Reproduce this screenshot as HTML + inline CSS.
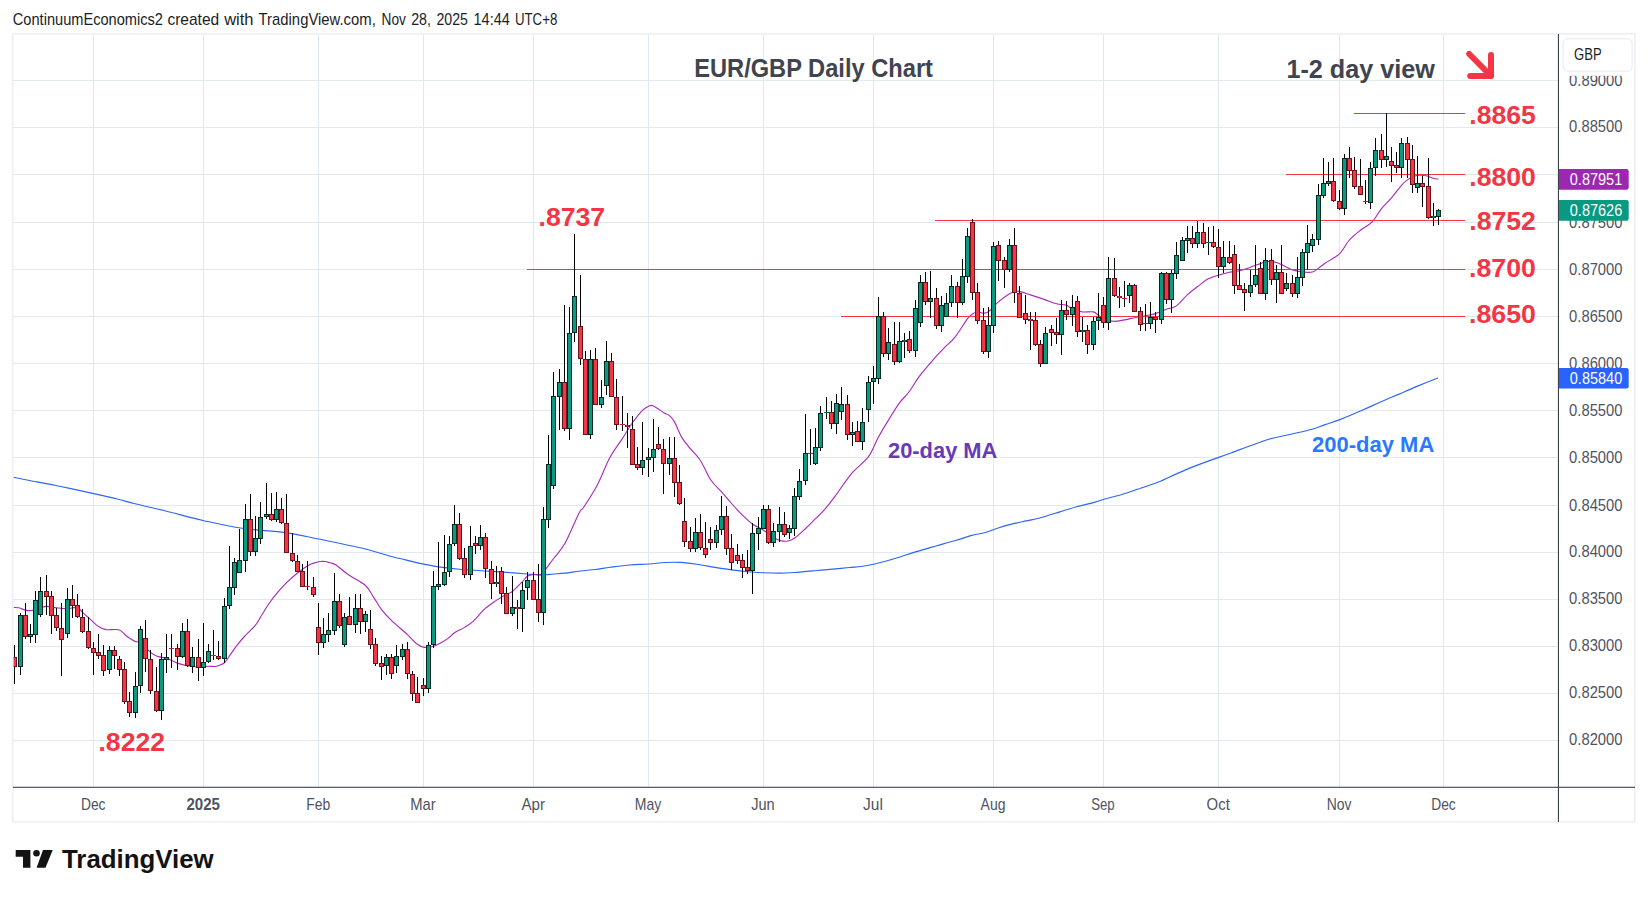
<!DOCTYPE html>
<html><head><meta charset="utf-8"><title>EUR/GBP Daily Chart</title>
<style>html,body{margin:0;padding:0;background:#fff;overflow:hidden}body{width:1648px;height:897px}</style></head>
<body>
<svg width="1648" height="897" viewBox="0 0 1648 897" style="display:block;font-family:'Liberation Sans', sans-serif">
<rect width="1648" height="897" fill="#fff"/>
<g fill="#e0e9f0">
<rect x="13" y="80" width="1545" height="1"/>
<rect x="13" y="127" width="1545" height="1"/>
<rect x="13" y="174" width="1545" height="1"/>
<rect x="13" y="222" width="1545" height="1"/>
<rect x="13" y="269" width="1545" height="1"/>
<rect x="13" y="316" width="1545" height="1"/>
<rect x="13" y="363" width="1545" height="1"/>
<rect x="13" y="410" width="1545" height="1"/>
<rect x="13" y="457" width="1545" height="1"/>
<rect x="13" y="505" width="1545" height="1"/>
<rect x="13" y="552" width="1545" height="1"/>
<rect x="13" y="599" width="1545" height="1"/>
<rect x="13" y="646" width="1545" height="1"/>
<rect x="13" y="693" width="1545" height="1"/>
<rect x="13" y="740" width="1545" height="1"/>
<rect x="93" y="35" width="1" height="752"/>
<rect x="203" y="35" width="1" height="752"/>
<rect x="318" y="35" width="1" height="752"/>
<rect x="423" y="35" width="1" height="752"/>
<rect x="533" y="35" width="1" height="752"/>
<rect x="648" y="35" width="1" height="752"/>
<rect x="763" y="35" width="1" height="752"/>
<rect x="873" y="35" width="1" height="752"/>
<rect x="993" y="35" width="1" height="752"/>
<rect x="1103" y="35" width="1" height="752"/>
<rect x="1218" y="35" width="1" height="752"/>
<rect x="1339" y="35" width="1" height="752"/>
<rect x="1443" y="35" width="1" height="752"/>
</g>
<path d="M13.3,477.3 C16.6,478.0 26.0,479.8 33.1,481.2 C40.3,482.5 46.7,483.6 56.1,485.5 C65.4,487.4 79.0,490.4 89.2,492.6 C99.4,494.9 109.6,497.1 117.2,499.0 C124.9,500.9 127.0,501.8 135.1,503.8 C143.1,505.8 154.2,508.2 165.6,511.0 C177.1,513.8 191.1,517.8 203.9,520.7 C216.6,523.5 228.5,526.3 242.1,528.3 C255.7,530.3 272.7,530.8 285.4,532.6 C298.2,534.4 305.4,536.3 318.6,539.0 C331.7,541.7 352.1,545.7 364.4,548.7 C376.7,551.7 386.5,555.2 392.5,556.8 C398.4,558.5 395.8,557.5 400.0,558.5 C404.2,559.5 411.4,561.5 417.8,562.9 C424.2,564.3 431.4,565.8 438.4,566.9 C445.3,567.9 451.6,568.5 459.4,569.2 C467.2,569.9 477.6,570.4 485.4,571.0 C493.3,571.5 499.5,571.9 506.5,572.4 C513.5,572.9 521.6,573.6 527.4,574.0 C533.1,574.4 536.6,574.9 540.9,574.9 C545.3,574.9 549.6,574.3 553.6,574.0 C557.6,573.7 560.6,573.6 565.0,573.1 C569.4,572.6 575.0,571.6 580.0,571.0 C585.0,570.4 590.0,570.1 595.0,569.5 C600.0,568.9 604.2,568.0 610.0,567.2 C615.8,566.5 623.5,565.5 630.0,565.0 C636.5,564.5 643.2,564.4 649.0,564.0 C654.8,563.6 659.7,562.8 665.0,562.5 C670.3,562.2 675.4,562.1 680.7,562.4 C686.0,562.7 691.1,563.3 696.8,564.2 C702.4,565.0 708.8,566.4 714.6,567.4 C720.4,568.3 726.1,569.2 731.5,569.9 C737.0,570.6 742.1,571.2 747.4,571.7 C752.7,572.1 758.0,572.5 763.3,572.7 C768.6,573.0 774.2,573.1 779.3,573.1 C784.5,573.1 788.8,572.9 794.3,572.5 C799.9,572.2 806.8,571.5 812.7,570.9 C818.6,570.4 823.9,570.0 830.0,569.4 C836.1,568.8 844.2,568.0 849.4,567.5 C854.6,567.0 857.0,567.1 861.1,566.5 C865.1,566.0 868.2,565.5 873.7,564.2 C879.2,562.9 886.8,560.9 894.1,558.7 C901.4,556.6 910.3,553.5 917.4,551.4 C924.5,549.2 930.3,547.6 936.8,545.7 C943.3,543.9 950.4,542.0 956.2,540.3 C962.0,538.6 966.9,536.7 971.7,535.4 C976.6,534.1 980.8,533.8 985.3,532.5 C989.9,531.2 994.1,529.2 998.9,527.7 C1003.8,526.1 1009.9,524.5 1014.5,523.4 C1019.0,522.3 1021.9,521.8 1026.1,520.9 C1030.3,520.0 1034.2,519.4 1039.7,518.0 C1045.2,516.5 1053.0,514.0 1059.1,512.1 C1065.3,510.3 1070.8,508.3 1076.6,506.7 C1082.4,505.1 1088.9,503.9 1094.1,502.4 C1099.3,501.0 1103.1,499.4 1107.7,498.2 C1112.2,496.9 1116.4,496.1 1121.3,494.7 C1126.1,493.2 1133.7,490.5 1136.8,489.4 C1139.9,488.4 1136.4,489.7 1140.0,488.5 C1143.6,487.2 1152.3,484.4 1158.5,482.0 C1164.7,479.5 1170.8,476.3 1177.0,473.6 C1183.2,471.0 1188.6,468.6 1195.5,465.9 C1202.5,463.2 1212.5,459.6 1218.7,457.4 C1224.8,455.1 1227.1,454.3 1232.5,452.4 C1237.9,450.4 1244.9,447.7 1251.0,445.5 C1257.2,443.3 1263.4,440.8 1269.6,439.0 C1275.7,437.2 1281.0,436.4 1288.1,434.8 C1295.2,433.1 1306.0,430.9 1312.1,429.2 C1318.3,427.5 1320.5,426.2 1325.1,424.6 C1329.7,423.0 1333.7,422.0 1339.9,419.6 C1346.1,417.2 1355.3,413.3 1362.1,410.3 C1368.9,407.4 1374.4,404.7 1380.6,402.0 C1386.8,399.3 1392.9,396.7 1399.1,394.1 C1405.3,391.4 1411.1,388.8 1417.6,386.1 C1424.1,383.4 1434.6,379.3 1438.0,378.0" fill="none" stroke="#2c65fc" stroke-width="1.15" stroke-linejoin="round"/>
<path d="M13.6,607.5 C14.5,607.5 16.9,607.4 18.9,607.8 C20.9,608.3 23.4,609.7 25.5,610.1 C27.6,610.6 28.9,610.9 31.4,610.5 C33.9,610.1 38.0,608.5 40.5,607.8 C43.0,607.1 43.9,606.4 46.6,606.4 C49.2,606.4 52.9,607.4 56.4,607.8 C59.9,608.2 63.9,608.8 67.4,608.7 C70.9,608.6 74.9,606.9 77.4,607.5 C79.9,608.0 80.6,610.6 82.4,612.3 C84.3,614.0 85.8,615.2 88.5,617.6 C91.2,620.0 95.5,624.5 98.5,626.5 C101.4,628.5 102.9,629.0 106.3,629.6 C109.7,630.1 115.5,628.8 118.8,629.8 C122.1,630.7 123.3,633.5 125.9,635.5 C128.6,637.4 132.5,640.2 134.9,641.3 C137.3,642.5 137.8,640.8 140.4,642.6 C143.0,644.4 147.9,650.2 150.6,652.4 C153.2,654.6 153.8,655.0 156.5,656.0 C159.1,657.0 163.9,657.5 166.4,658.3 C168.9,659.0 169.6,659.6 171.4,660.4 C173.2,661.2 174.7,662.2 177.3,663.1 C180.0,664.0 183.8,665.1 187.3,665.8 C190.8,666.4 194.8,666.9 198.4,667.0 C201.9,667.1 205.3,666.4 208.3,666.3 C211.4,666.2 214.1,666.9 216.7,666.3 C219.4,665.7 222.3,664.5 224.4,662.8 C226.5,661.0 227.4,658.7 229.4,656.0 C231.4,653.2 233.7,649.6 236.4,646.2 C239.0,642.7 242.1,638.9 245.3,635.5 C248.4,632.0 252.4,628.9 255.1,625.6 C257.8,622.4 259.1,619.4 261.3,615.8 C263.6,612.3 265.8,608.1 268.5,604.2 C271.1,600.4 274.4,596.2 277.4,592.6 C280.4,589.1 282.9,586.1 286.3,582.8 C289.7,579.6 294.0,575.9 297.5,573.0 C301.1,570.2 305.1,567.4 307.7,565.8 C310.4,564.1 310.9,563.9 313.4,563.1 C315.9,562.4 320.1,561.4 322.9,561.3 C325.6,561.3 327.8,562.1 330.0,562.8 C332.2,563.4 333.0,563.0 336.1,565.0 C339.1,567.0 343.6,571.4 348.5,574.8 C353.4,578.2 361.3,581.8 365.5,585.5 C369.6,589.2 370.8,593.1 373.5,597.1 C376.2,601.1 378.6,605.7 381.5,609.6 C384.5,613.5 387.0,616.1 391.4,620.3 C395.7,624.5 403.2,630.7 407.4,634.6 C411.6,638.4 413.5,641.3 416.3,643.5 C419.1,645.6 421.5,647.0 424.4,647.4 C427.2,647.9 430.8,647.0 433.6,646.2 C436.5,645.4 438.8,643.9 441.3,642.6 C443.8,641.3 446.2,639.8 448.4,638.1 C450.6,636.5 451.8,634.6 454.5,632.8 C457.2,631.0 461.3,629.4 464.5,627.4 C467.6,625.5 470.0,624.3 473.4,621.2 C476.8,618.1 481.2,612.2 485.0,608.7 C488.8,605.2 492.7,602.8 496.3,600.4 C499.9,598.0 503.8,595.6 506.5,594.2 C509.2,592.7 509.7,593.6 512.4,591.5 C515.0,589.4 519.9,584.2 522.4,581.7 C524.9,579.1 525.5,577.5 527.4,576.3 C529.2,575.1 531.2,574.8 533.4,574.5 C535.7,574.2 538.8,575.6 540.9,574.5 C543.1,573.5 544.2,571.0 546.3,568.3 C548.4,565.6 550.5,562.6 553.6,558.5 C556.7,554.3 560.8,550.9 565.0,543.3 C569.2,535.7 576.0,518.9 579.1,512.9 C582.1,506.9 580.8,511.6 583.5,507.5 C586.2,503.5 592.3,494.0 595.3,488.8 C598.3,483.6 598.9,481.7 601.4,476.3 C603.8,471.0 606.8,462.9 610.3,456.7 C613.7,450.5 618.5,444.5 622.2,438.9 C625.9,433.2 629.0,427.6 632.4,422.8 C635.7,418.1 639.7,413.1 642.4,410.3 C645.1,407.6 646.8,407.0 648.6,406.2 C650.5,405.5 651.0,404.8 653.4,405.9 C655.9,406.9 660.8,410.8 663.4,412.5 C666.1,414.1 667.7,414.1 669.5,415.7 C671.3,417.3 672.5,418.4 674.5,421.9 C676.5,425.5 679.2,432.9 681.6,437.1 C684.0,441.2 685.6,443.0 688.8,446.9 C691.9,450.8 696.8,455.1 700.5,460.7 C704.2,466.3 707.5,475.1 711.0,480.3 C714.5,485.5 718.1,488.1 721.6,491.9 C725.0,495.8 728.1,499.6 731.5,503.5 C735.0,507.4 738.9,511.7 742.4,515.1 C745.9,518.5 748.9,521.5 752.4,524.0 C755.9,526.6 760.0,528.0 763.5,530.3 C767.0,532.5 770.6,535.7 773.5,537.4 C776.3,539.1 778.2,540.0 780.6,540.6 C783.0,541.2 785.4,541.4 787.7,541.0 C790.0,540.6 791.4,540.4 794.3,538.3 C797.3,536.2 802.0,531.8 805.6,528.5 C809.1,525.2 812.3,521.9 815.6,518.7 C818.8,515.4 822.0,512.6 825.2,508.9 C828.4,505.1 830.6,502.3 835.0,496.4 C839.4,490.5 846.0,480.2 851.5,473.6 C857.1,467.0 864.0,462.7 868.5,456.7 C873.0,450.6 875.1,443.1 878.5,437.0 C881.8,430.9 885.0,425.7 888.5,420.1 C891.9,414.4 895.9,407.9 899.3,403.1 C902.8,398.4 906.0,396.0 909.3,391.5 C912.7,387.1 915.4,381.6 919.3,376.4 C923.2,371.2 928.4,365.2 932.7,360.3 C937.0,355.4 941.5,350.8 945.2,346.9 C948.9,343.1 951.3,341.8 955.0,337.1 C958.7,332.4 964.5,322.7 967.4,318.8 C970.3,315.0 970.7,315.1 972.4,314.0 C974.0,312.9 975.5,312.2 977.4,312.0 C979.2,311.9 981.6,313.2 983.4,313.1 C985.3,313.0 985.9,313.5 988.4,311.7 C990.9,309.8 994.9,304.8 998.4,301.9 C1001.9,298.9 1006.8,295.5 1009.5,293.8 C1012.2,292.2 1012.8,292.5 1014.5,292.1 C1016.1,291.6 1016.6,290.9 1019.3,291.4 C1021.9,291.8 1026.1,293.5 1030.5,294.9 C1034.9,296.3 1041.2,298.4 1045.5,299.9 C1049.8,301.4 1053.0,302.9 1056.6,303.8 C1060.1,304.7 1063.9,304.4 1066.5,305.3 C1069.2,306.2 1069.8,308.1 1072.4,309.2 C1075.1,310.3 1078.9,311.4 1082.4,311.9 C1085.9,312.3 1090.8,311.3 1093.5,311.9 C1096.2,312.5 1096.8,314.3 1098.5,315.4 C1100.1,316.5 1101.0,317.5 1103.5,318.5 C1106.0,319.4 1110.0,321.1 1113.5,321.3 C1116.9,321.6 1120.9,320.5 1124.3,319.9 C1127.8,319.3 1130.8,318.4 1134.3,317.8 C1137.9,317.1 1142.0,316.5 1145.6,315.8 C1149.1,315.1 1152.1,314.7 1155.6,313.6 C1159.0,312.5 1163.0,310.5 1166.4,309.2 C1169.9,307.9 1172.9,308.3 1176.4,305.9 C1179.9,303.5 1183.8,298.0 1187.3,294.9 C1190.8,291.7 1193.8,289.5 1197.3,286.8 C1200.8,284.2 1204.8,280.7 1208.3,278.8 C1211.8,276.9 1214.8,276.3 1218.3,275.2 C1221.8,274.1 1225.9,273.0 1229.4,272.2 C1232.9,271.5 1235.9,271.6 1239.4,270.8 C1242.9,270.0 1246.9,268.4 1250.4,267.2 C1253.9,266.0 1257.9,264.5 1260.4,263.6 C1262.9,262.8 1263.1,262.2 1265.4,261.9 C1267.7,261.6 1271.5,261.4 1274.2,261.9 C1276.8,262.3 1278.4,263.2 1281.5,264.5 C1284.5,265.9 1289.0,268.6 1292.5,269.9 C1296.0,271.1 1299.2,271.7 1302.5,272.0 C1305.9,272.4 1309.8,272.7 1312.5,272.0 C1315.2,271.4 1316.5,269.6 1318.6,268.1 C1320.7,266.7 1321.5,265.7 1325.0,263.3 C1328.5,260.9 1335.4,257.6 1339.4,253.8 C1343.5,249.9 1345.9,244.0 1349.4,240.0 C1352.9,236.1 1356.7,233.2 1360.5,230.2 C1364.2,227.2 1368.4,225.8 1371.9,222.2 C1375.4,218.6 1378.1,212.9 1381.3,208.8 C1384.6,204.7 1388.2,201.7 1391.5,197.8 C1394.9,193.8 1398.9,188.2 1401.5,185.3 C1404.1,182.3 1405.6,181.3 1407.4,179.9 C1409.2,178.5 1410.4,177.8 1412.4,177.1 C1414.3,176.3 1416.8,175.5 1419.2,175.3 C1421.5,175.1 1423.9,175.3 1426.3,175.8 C1428.7,176.3 1431.4,178.0 1433.4,178.5 C1435.5,179.0 1437.6,178.9 1438.4,179.0" fill="none" stroke="#a62bb8" stroke-width="1.12" stroke-linejoin="round"/>
<g fill="#f23645">
<rect x="1354" y="113" width="111" height="1"/>
<rect x="1286" y="174" width="179" height="1"/>
<rect x="935" y="220" width="530" height="1"/>
<rect x="527" y="269" width="938" height="1"/>
<rect x="841" y="316" width="624" height="1"/>
</g>
<g fill="#000"><rect x="14" y="645" width="1" height="39"/><rect x="20" y="613" width="1" height="62"/><rect x="25" y="603" width="1" height="36"/><rect x="30" y="624" width="1" height="19"/><rect x="35" y="591" width="1" height="52"/><rect x="40" y="577" width="1" height="40"/><rect x="46" y="575" width="1" height="40"/><rect x="51" y="591" width="1" height="43"/><rect x="56" y="608" width="1" height="23"/><rect x="61" y="603" width="1" height="73"/><rect x="67" y="588" width="1" height="50"/><rect x="72" y="585" width="1" height="33"/><rect x="77" y="594" width="1" height="24"/><rect x="82" y="609" width="1" height="24"/><rect x="88" y="617" width="1" height="32"/><rect x="93" y="642" width="1" height="33"/><rect x="98" y="634" width="1" height="25"/><rect x="103" y="645" width="1" height="31"/><rect x="109" y="646" width="1" height="28"/><rect x="114" y="646" width="1" height="23"/><rect x="119" y="656" width="1" height="20"/><rect x="124" y="662" width="1" height="42"/><rect x="129" y="692" width="1" height="25"/><rect x="135" y="672" width="1" height="46"/><rect x="140" y="626" width="1" height="67"/><rect x="145" y="620" width="1" height="52"/><rect x="150" y="650" width="1" height="44"/><rect x="156" y="667" width="1" height="45"/><rect x="161" y="653" width="1" height="67"/><rect x="166" y="634" width="1" height="39"/><rect x="171" y="634" width="1" height="34"/><rect x="177" y="644" width="1" height="26"/><rect x="182" y="623" width="1" height="35"/><rect x="187" y="619" width="1" height="48"/><rect x="192" y="647" width="1" height="26"/><rect x="198" y="639" width="1" height="42"/><rect x="203" y="623" width="1" height="53"/><rect x="208" y="644" width="1" height="19"/><rect x="213" y="630" width="1" height="30"/><rect x="218" y="641" width="1" height="19"/><rect x="224" y="598" width="1" height="65"/><rect x="229" y="546" width="1" height="63"/><rect x="234" y="558" width="1" height="37"/><rect x="239" y="529" width="1" height="44"/><rect x="245" y="504" width="1" height="68"/><rect x="250" y="494" width="1" height="62"/><rect x="255" y="516" width="1" height="40"/><rect x="260" y="502" width="1" height="42"/><rect x="266" y="483" width="1" height="36"/><rect x="271" y="493" width="1" height="28"/><rect x="276" y="492" width="1" height="30"/><rect x="281" y="498" width="1" height="26"/><rect x="286" y="494" width="1" height="59"/><rect x="292" y="533" width="1" height="29"/><rect x="297" y="555" width="1" height="17"/><rect x="302" y="564" width="1" height="23"/><rect x="307" y="561" width="1" height="29"/><rect x="313" y="577" width="1" height="20"/><rect x="318" y="603" width="1" height="52"/><rect x="323" y="618" width="1" height="30"/><rect x="328" y="613" width="1" height="29"/><rect x="334" y="573" width="1" height="62"/><rect x="339" y="594" width="1" height="34"/><rect x="344" y="613" width="1" height="34"/><rect x="349" y="597" width="1" height="28"/><rect x="355" y="594" width="1" height="39"/><rect x="360" y="594" width="1" height="40"/><rect x="365" y="611" width="1" height="21"/><rect x="370" y="610" width="1" height="39"/><rect x="375" y="638" width="1" height="28"/><rect x="381" y="656" width="1" height="24"/><rect x="386" y="654" width="1" height="21"/><rect x="391" y="654" width="1" height="25"/><rect x="396" y="645" width="1" height="28"/><rect x="402" y="644" width="1" height="16"/><rect x="407" y="642" width="1" height="37"/><rect x="412" y="671" width="1" height="30"/><rect x="417" y="677" width="1" height="26"/><rect x="423" y="678" width="1" height="18"/><rect x="428" y="642" width="1" height="51"/><rect x="433" y="571" width="1" height="77"/><rect x="438" y="542" width="1" height="48"/><rect x="444" y="535" width="1" height="51"/><rect x="449" y="536" width="1" height="41"/><rect x="454" y="505" width="1" height="41"/><rect x="459" y="513" width="1" height="47"/><rect x="464" y="548" width="1" height="30"/><rect x="470" y="526" width="1" height="54"/><rect x="475" y="536" width="1" height="18"/><rect x="480" y="525" width="1" height="25"/><rect x="485" y="533" width="1" height="45"/><rect x="491" y="561" width="1" height="38"/><rect x="496" y="566" width="1" height="21"/><rect x="501" y="567" width="1" height="37"/><rect x="506" y="587" width="1" height="27"/><rect x="512" y="576" width="1" height="40"/><rect x="517" y="600" width="1" height="29"/><rect x="522" y="582" width="1" height="50"/><rect x="527" y="572" width="1" height="28"/><rect x="533" y="572" width="1" height="28"/><rect x="538" y="564" width="1" height="58"/><rect x="543" y="507" width="1" height="118"/><rect x="548" y="435" width="1" height="93"/><rect x="553" y="372" width="1" height="117"/><rect x="559" y="369" width="1" height="61"/><rect x="564" y="305" width="1" height="126"/><rect x="569" y="307" width="1" height="133"/><rect x="574" y="234" width="1" height="108"/><rect x="580" y="275" width="1" height="90"/><rect x="585" y="351" width="1" height="84"/><rect x="590" y="350" width="1" height="89"/><rect x="595" y="348" width="1" height="57"/><rect x="601" y="380" width="1" height="28"/><rect x="606" y="341" width="1" height="54"/><rect x="611" y="353" width="1" height="44"/><rect x="616" y="379" width="1" height="51"/><rect x="622" y="396" width="1" height="35"/><rect x="627" y="413" width="1" height="35"/><rect x="632" y="416" width="1" height="49"/><rect x="637" y="447" width="1" height="23"/><rect x="642" y="422" width="1" height="53"/><rect x="648" y="448" width="1" height="29"/><rect x="653" y="419" width="1" height="53"/><rect x="658" y="427" width="1" height="23"/><rect x="663" y="439" width="1" height="55"/><rect x="669" y="437" width="1" height="38"/><rect x="674" y="437" width="1" height="60"/><rect x="679" y="465" width="1" height="40"/><rect x="684" y="498" width="1" height="49"/><rect x="690" y="527" width="1" height="25"/><rect x="695" y="518" width="1" height="34"/><rect x="700" y="514" width="1" height="36"/><rect x="705" y="522" width="1" height="36"/><rect x="710" y="527" width="1" height="23"/><rect x="716" y="525" width="1" height="23"/><rect x="721" y="496" width="1" height="39"/><rect x="726" y="506" width="1" height="49"/><rect x="731" y="534" width="1" height="36"/><rect x="737" y="544" width="1" height="20"/><rect x="742" y="554" width="1" height="24"/><rect x="747" y="550" width="1" height="24"/><rect x="752" y="523" width="1" height="71"/><rect x="758" y="517" width="1" height="33"/><rect x="763" y="505" width="1" height="24"/><rect x="768" y="505" width="1" height="39"/><rect x="773" y="523" width="1" height="24"/><rect x="779" y="507" width="1" height="35"/><rect x="784" y="512" width="1" height="25"/><rect x="789" y="525" width="1" height="14"/><rect x="794" y="488" width="1" height="48"/><rect x="799" y="469" width="1" height="31"/><rect x="805" y="414" width="1" height="71"/><rect x="810" y="429" width="1" height="36"/><rect x="815" y="428" width="1" height="37"/><rect x="820" y="406" width="1" height="45"/><rect x="826" y="397" width="1" height="22"/><rect x="831" y="401" width="1" height="28"/><rect x="836" y="394" width="1" height="40"/><rect x="841" y="387" width="1" height="33"/><rect x="847" y="395" width="1" height="45"/><rect x="852" y="422" width="1" height="24"/><rect x="857" y="421" width="1" height="21"/><rect x="862" y="408" width="1" height="42"/><rect x="868" y="376" width="1" height="46"/><rect x="873" y="366" width="1" height="38"/><rect x="878" y="297" width="1" height="87"/><rect x="883" y="312" width="1" height="45"/><rect x="888" y="328" width="1" height="32"/><rect x="894" y="322" width="1" height="43"/><rect x="899" y="322" width="1" height="41"/><rect x="904" y="333" width="1" height="25"/><rect x="909" y="331" width="1" height="22"/><rect x="915" y="300" width="1" height="57"/><rect x="920" y="275" width="1" height="52"/><rect x="925" y="272" width="1" height="33"/><rect x="930" y="271" width="1" height="47"/><rect x="936" y="288" width="1" height="41"/><rect x="941" y="296" width="1" height="36"/><rect x="946" y="293" width="1" height="24"/><rect x="951" y="275" width="1" height="32"/><rect x="957" y="282" width="1" height="36"/><rect x="962" y="259" width="1" height="46"/><rect x="967" y="228" width="1" height="55"/><rect x="972" y="219" width="1" height="81"/><rect x="977" y="283" width="1" height="41"/><rect x="983" y="308" width="1" height="46"/><rect x="988" y="307" width="1" height="51"/><rect x="993" y="242" width="1" height="91"/><rect x="998" y="241" width="1" height="40"/><rect x="1004" y="257" width="1" height="31"/><rect x="1009" y="239" width="1" height="33"/><rect x="1014" y="228" width="1" height="75"/><rect x="1019" y="286" width="1" height="32"/><rect x="1025" y="295" width="1" height="29"/><rect x="1030" y="312" width="1" height="38"/><rect x="1035" y="312" width="1" height="34"/><rect x="1040" y="340" width="1" height="27"/><rect x="1045" y="327" width="1" height="37"/><rect x="1051" y="325" width="1" height="21"/><rect x="1056" y="318" width="1" height="26"/><rect x="1061" y="300" width="1" height="55"/><rect x="1066" y="301" width="1" height="19"/><rect x="1072" y="295" width="1" height="31"/><rect x="1077" y="296" width="1" height="41"/><rect x="1082" y="317" width="1" height="25"/><rect x="1087" y="325" width="1" height="29"/><rect x="1093" y="317" width="1" height="33"/><rect x="1098" y="293" width="1" height="37"/><rect x="1103" y="297" width="1" height="31"/><rect x="1108" y="257" width="1" height="73"/><rect x="1114" y="258" width="1" height="39"/><rect x="1119" y="287" width="1" height="21"/><rect x="1124" y="281" width="1" height="26"/><rect x="1129" y="283" width="1" height="20"/><rect x="1134" y="284" width="1" height="28"/><rect x="1140" y="307" width="1" height="24"/><rect x="1145" y="304" width="1" height="27"/><rect x="1150" y="302" width="1" height="27"/><rect x="1155" y="312" width="1" height="21"/><rect x="1161" y="272" width="1" height="52"/><rect x="1166" y="272" width="1" height="32"/><rect x="1171" y="270" width="1" height="43"/><rect x="1176" y="242" width="1" height="37"/><rect x="1182" y="237" width="1" height="24"/><rect x="1187" y="226" width="1" height="27"/><rect x="1192" y="226" width="1" height="22"/><rect x="1197" y="221" width="1" height="27"/><rect x="1203" y="223" width="1" height="25"/><rect x="1208" y="227" width="1" height="28"/><rect x="1213" y="226" width="1" height="22"/><rect x="1218" y="229" width="1" height="49"/><rect x="1223" y="241" width="1" height="32"/><rect x="1229" y="241" width="1" height="23"/><rect x="1234" y="245" width="1" height="49"/><rect x="1239" y="264" width="1" height="26"/><rect x="1244" y="283" width="1" height="28"/><rect x="1250" y="270" width="1" height="27"/><rect x="1255" y="245" width="1" height="42"/><rect x="1260" y="262" width="1" height="32"/><rect x="1265" y="248" width="1" height="52"/><rect x="1271" y="249" width="1" height="36"/><rect x="1276" y="265" width="1" height="38"/><rect x="1281" y="245" width="1" height="49"/><rect x="1286" y="273" width="1" height="18"/><rect x="1292" y="275" width="1" height="22"/><rect x="1297" y="257" width="1" height="41"/><rect x="1302" y="249" width="1" height="37"/><rect x="1307" y="225" width="1" height="45"/><rect x="1312" y="234" width="1" height="18"/><rect x="1318" y="184" width="1" height="61"/><rect x="1323" y="158" width="1" height="40"/><rect x="1328" y="162" width="1" height="24"/><rect x="1333" y="158" width="1" height="44"/><rect x="1339" y="190" width="1" height="20"/><rect x="1344" y="154" width="1" height="61"/><rect x="1349" y="147" width="1" height="31"/><rect x="1354" y="157" width="1" height="32"/><rect x="1360" y="159" width="1" height="36"/><rect x="1365" y="180" width="1" height="24"/><rect x="1370" y="162" width="1" height="47"/><rect x="1375" y="138" width="1" height="38"/><rect x="1381" y="134" width="1" height="34"/><rect x="1386" y="113" width="1" height="54"/><rect x="1391" y="147" width="1" height="35"/><rect x="1396" y="152" width="1" height="21"/><rect x="1401" y="138" width="1" height="40"/><rect x="1407" y="137" width="1" height="41"/><rect x="1412" y="145" width="1" height="48"/><rect x="1417" y="156" width="1" height="37"/><rect x="1422" y="176" width="1" height="31"/><rect x="1428" y="158" width="1" height="61"/><rect x="1433" y="203" width="1" height="23"/><rect x="1438" y="209" width="1" height="16"/></g>
<g><rect x="12" y="657" width="5" height="10" fill="#6b121b"/><rect x="18" y="615" width="5" height="52" fill="#04291f"/><rect x="23" y="615" width="5" height="22" fill="#6b121b"/><rect x="28" y="634" width="5" height="3" fill="#04291f"/><rect x="33" y="600" width="5" height="35" fill="#04291f"/><rect x="38" y="591" width="5" height="24" fill="#04291f"/><rect x="44" y="591" width="5" height="6" fill="#6b121b"/><rect x="49" y="596" width="5" height="20" fill="#6b121b"/><rect x="54" y="615" width="5" height="13" fill="#6b121b"/><rect x="59" y="628" width="5" height="12" fill="#6b121b"/><rect x="65" y="599" width="5" height="35" fill="#04291f"/><rect x="70" y="599" width="5" height="7" fill="#6b121b"/><rect x="75" y="605" width="5" height="12" fill="#6b121b"/><rect x="80" y="617" width="5" height="15" fill="#6b121b"/><rect x="86" y="631" width="5" height="17" fill="#6b121b"/><rect x="91" y="648" width="5" height="5" fill="#6b121b"/><rect x="96" y="652" width="5" height="4" fill="#6b121b"/><rect x="101" y="655" width="5" height="16" fill="#6b121b"/><rect x="107" y="650" width="5" height="20" fill="#04291f"/><rect x="112" y="650" width="5" height="6" fill="#6b121b"/><rect x="117" y="659" width="5" height="11" fill="#6b121b"/><rect x="122" y="669" width="5" height="33" fill="#6b121b"/><rect x="127" y="701" width="5" height="12" fill="#6b121b"/><rect x="133" y="686" width="5" height="27" fill="#04291f"/><rect x="138" y="629" width="5" height="57" fill="#04291f"/><rect x="143" y="638" width="5" height="21" fill="#6b121b"/><rect x="148" y="659" width="5" height="32" fill="#6b121b"/><rect x="154" y="691" width="5" height="20" fill="#6b121b"/><rect x="159" y="659" width="5" height="52" fill="#04291f"/><rect x="164" y="657" width="5" height="3" fill="#04291f"/><rect x="169" y="648" width="5" height="1" fill="#6b121b"/><rect x="175" y="648" width="5" height="9" fill="#6b121b"/><rect x="180" y="631" width="5" height="26" fill="#04291f"/><rect x="185" y="631" width="5" height="35" fill="#6b121b"/><rect x="190" y="657" width="5" height="10" fill="#04291f"/><rect x="196" y="657" width="5" height="11" fill="#6b121b"/><rect x="201" y="662" width="5" height="6" fill="#04291f"/><rect x="206" y="651" width="5" height="11" fill="#04291f"/><rect x="211" y="655" width="5" height="1" fill="#6b121b"/><rect x="216" y="656" width="5" height="3" fill="#6b121b"/><rect x="222" y="606" width="5" height="53" fill="#04291f"/><rect x="227" y="587" width="5" height="19" fill="#04291f"/><rect x="232" y="562" width="5" height="26" fill="#04291f"/><rect x="237" y="560" width="5" height="13" fill="#04291f"/><rect x="243" y="519" width="5" height="42" fill="#04291f"/><rect x="248" y="519" width="5" height="33" fill="#6b121b"/><rect x="253" y="538" width="5" height="14" fill="#04291f"/><rect x="258" y="517" width="5" height="22" fill="#04291f"/><rect x="264" y="514" width="5" height="3" fill="#04291f"/><rect x="269" y="514" width="5" height="6" fill="#6b121b"/><rect x="274" y="509" width="5" height="11" fill="#04291f"/><rect x="279" y="509" width="5" height="14" fill="#6b121b"/><rect x="284" y="523" width="5" height="30" fill="#6b121b"/><rect x="290" y="553" width="5" height="8" fill="#6b121b"/><rect x="295" y="561" width="5" height="11" fill="#6b121b"/><rect x="300" y="571" width="5" height="16" fill="#6b121b"/><rect x="305" y="586" width="5" height="1" fill="#6b121b"/><rect x="311" y="587" width="5" height="8" fill="#6b121b"/><rect x="316" y="627" width="5" height="16" fill="#6b121b"/><rect x="321" y="634" width="5" height="9" fill="#04291f"/><rect x="326" y="630" width="5" height="5" fill="#04291f"/><rect x="332" y="601" width="5" height="30" fill="#04291f"/><rect x="337" y="601" width="5" height="25" fill="#6b121b"/><rect x="342" y="617" width="5" height="28" fill="#04291f"/><rect x="347" y="616" width="5" height="9" fill="#6b121b"/><rect x="353" y="608" width="5" height="17" fill="#04291f"/><rect x="358" y="608" width="5" height="14" fill="#6b121b"/><rect x="363" y="614" width="5" height="8" fill="#04291f"/><rect x="368" y="629" width="5" height="16" fill="#6b121b"/><rect x="373" y="644" width="5" height="20" fill="#6b121b"/><rect x="379" y="663" width="5" height="4" fill="#6b121b"/><rect x="384" y="657" width="5" height="9" fill="#04291f"/><rect x="389" y="657" width="5" height="17" fill="#6b121b"/><rect x="394" y="656" width="5" height="10" fill="#04291f"/><rect x="400" y="649" width="5" height="8" fill="#04291f"/><rect x="405" y="649" width="5" height="25" fill="#6b121b"/><rect x="410" y="674" width="5" height="20" fill="#6b121b"/><rect x="415" y="693" width="5" height="10" fill="#6b121b"/><rect x="421" y="685" width="5" height="4" fill="#6b121b"/><rect x="426" y="645" width="5" height="44" fill="#04291f"/><rect x="431" y="586" width="5" height="59" fill="#04291f"/><rect x="436" y="584" width="5" height="3" fill="#04291f"/><rect x="442" y="572" width="5" height="13" fill="#04291f"/><rect x="447" y="544" width="5" height="28" fill="#04291f"/><rect x="452" y="524" width="5" height="20" fill="#04291f"/><rect x="457" y="524" width="5" height="35" fill="#6b121b"/><rect x="462" y="558" width="5" height="17" fill="#6b121b"/><rect x="468" y="546" width="5" height="29" fill="#04291f"/><rect x="473" y="543" width="5" height="3" fill="#6b121b"/><rect x="478" y="537" width="5" height="9" fill="#04291f"/><rect x="483" y="537" width="5" height="32" fill="#6b121b"/><rect x="489" y="569" width="5" height="15" fill="#6b121b"/><rect x="494" y="582" width="5" height="2" fill="#04291f"/><rect x="499" y="571" width="5" height="23" fill="#6b121b"/><rect x="504" y="593" width="5" height="21" fill="#6b121b"/><rect x="510" y="607" width="5" height="7" fill="#04291f"/><rect x="515" y="607" width="5" height="2" fill="#6b121b"/><rect x="520" y="590" width="5" height="19" fill="#04291f"/><rect x="525" y="580" width="5" height="8" fill="#04291f"/><rect x="531" y="580" width="5" height="20" fill="#6b121b"/><rect x="536" y="599" width="5" height="14" fill="#6b121b"/><rect x="541" y="519" width="5" height="94" fill="#04291f"/><rect x="546" y="464" width="5" height="56" fill="#04291f"/><rect x="551" y="396" width="5" height="90" fill="#04291f"/><rect x="557" y="382" width="5" height="15" fill="#04291f"/><rect x="562" y="382" width="5" height="47" fill="#6b121b"/><rect x="567" y="333" width="5" height="96" fill="#04291f"/><rect x="572" y="296" width="5" height="37" fill="#04291f"/><rect x="578" y="326" width="5" height="33" fill="#6b121b"/><rect x="583" y="359" width="5" height="76" fill="#6b121b"/><rect x="588" y="359" width="5" height="76" fill="#04291f"/><rect x="593" y="359" width="5" height="46" fill="#6b121b"/><rect x="599" y="397" width="5" height="8" fill="#04291f"/><rect x="604" y="361" width="5" height="25" fill="#04291f"/><rect x="609" y="361" width="5" height="36" fill="#6b121b"/><rect x="614" y="397" width="5" height="28" fill="#6b121b"/><rect x="620" y="424" width="5" height="1" fill="#6b121b"/><rect x="625" y="425" width="5" height="2" fill="#6b121b"/><rect x="630" y="429" width="5" height="36" fill="#6b121b"/><rect x="635" y="464" width="5" height="4" fill="#6b121b"/><rect x="640" y="460" width="5" height="8" fill="#04291f"/><rect x="646" y="457" width="5" height="3" fill="#04291f"/><rect x="651" y="449" width="5" height="9" fill="#04291f"/><rect x="656" y="444" width="5" height="5" fill="#6b121b"/><rect x="661" y="449" width="5" height="15" fill="#6b121b"/><rect x="667" y="458" width="5" height="6" fill="#04291f"/><rect x="672" y="458" width="5" height="25" fill="#6b121b"/><rect x="677" y="482" width="5" height="22" fill="#6b121b"/><rect x="682" y="521" width="5" height="21" fill="#6b121b"/><rect x="688" y="541" width="5" height="8" fill="#6b121b"/><rect x="693" y="532" width="5" height="17" fill="#04291f"/><rect x="698" y="532" width="5" height="16" fill="#6b121b"/><rect x="703" y="548" width="5" height="7" fill="#6b121b"/><rect x="708" y="539" width="5" height="4" fill="#6b121b"/><rect x="714" y="530" width="5" height="13" fill="#04291f"/><rect x="719" y="516" width="5" height="14" fill="#04291f"/><rect x="724" y="516" width="5" height="33" fill="#6b121b"/><rect x="729" y="548" width="5" height="15" fill="#6b121b"/><rect x="735" y="555" width="5" height="6" fill="#6b121b"/><rect x="740" y="560" width="5" height="8" fill="#6b121b"/><rect x="745" y="567" width="5" height="4" fill="#6b121b"/><rect x="750" y="533" width="5" height="38" fill="#04291f"/><rect x="756" y="528" width="5" height="6" fill="#04291f"/><rect x="761" y="509" width="5" height="20" fill="#04291f"/><rect x="766" y="509" width="5" height="34" fill="#6b121b"/><rect x="771" y="531" width="5" height="12" fill="#04291f"/><rect x="777" y="524" width="5" height="8" fill="#04291f"/><rect x="782" y="524" width="5" height="11" fill="#6b121b"/><rect x="787" y="528" width="5" height="5" fill="#04291f"/><rect x="792" y="496" width="5" height="33" fill="#04291f"/><rect x="797" y="481" width="5" height="16" fill="#04291f"/><rect x="803" y="453" width="5" height="28" fill="#04291f"/><rect x="808" y="453" width="5" height="1" fill="#04291f"/><rect x="813" y="447" width="5" height="17" fill="#04291f"/><rect x="818" y="413" width="5" height="35" fill="#04291f"/><rect x="824" y="412" width="5" height="1" fill="#04291f"/><rect x="829" y="412" width="5" height="12" fill="#6b121b"/><rect x="834" y="403" width="5" height="21" fill="#04291f"/><rect x="839" y="404" width="5" height="8" fill="#04291f"/><rect x="845" y="404" width="5" height="31" fill="#6b121b"/><rect x="850" y="432" width="5" height="3" fill="#04291f"/><rect x="855" y="431" width="5" height="11" fill="#6b121b"/><rect x="860" y="422" width="5" height="20" fill="#04291f"/><rect x="866" y="382" width="5" height="28" fill="#04291f"/><rect x="871" y="378" width="5" height="4" fill="#04291f"/><rect x="876" y="316" width="5" height="63" fill="#04291f"/><rect x="881" y="316" width="5" height="38" fill="#6b121b"/><rect x="886" y="342" width="5" height="12" fill="#04291f"/><rect x="892" y="344" width="5" height="18" fill="#6b121b"/><rect x="897" y="341" width="5" height="21" fill="#04291f"/><rect x="902" y="340" width="5" height="2" fill="#04291f"/><rect x="907" y="339" width="5" height="12" fill="#6b121b"/><rect x="913" y="308" width="5" height="43" fill="#04291f"/><rect x="918" y="282" width="5" height="41" fill="#04291f"/><rect x="923" y="282" width="5" height="20" fill="#6b121b"/><rect x="928" y="298" width="5" height="4" fill="#04291f"/><rect x="934" y="298" width="5" height="28" fill="#6b121b"/><rect x="939" y="305" width="5" height="21" fill="#04291f"/><rect x="944" y="303" width="5" height="14" fill="#04291f"/><rect x="949" y="286" width="5" height="17" fill="#04291f"/><rect x="955" y="286" width="5" height="17" fill="#6b121b"/><rect x="960" y="276" width="5" height="27" fill="#04291f"/><rect x="965" y="236" width="5" height="41" fill="#04291f"/><rect x="970" y="222" width="5" height="71" fill="#6b121b"/><rect x="975" y="292" width="5" height="29" fill="#6b121b"/><rect x="981" y="320" width="5" height="32" fill="#6b121b"/><rect x="986" y="325" width="5" height="27" fill="#04291f"/><rect x="991" y="246" width="5" height="80" fill="#04291f"/><rect x="996" y="245" width="5" height="16" fill="#6b121b"/><rect x="1002" y="260" width="5" height="10" fill="#6b121b"/><rect x="1007" y="245" width="5" height="25" fill="#04291f"/><rect x="1012" y="245" width="5" height="48" fill="#6b121b"/><rect x="1017" y="293" width="5" height="25" fill="#6b121b"/><rect x="1023" y="313" width="5" height="7" fill="#6b121b"/><rect x="1028" y="319" width="5" height="2" fill="#6b121b"/><rect x="1033" y="320" width="5" height="25" fill="#6b121b"/><rect x="1038" y="344" width="5" height="20" fill="#6b121b"/><rect x="1043" y="333" width="5" height="31" fill="#04291f"/><rect x="1049" y="329" width="5" height="4" fill="#6b121b"/><rect x="1054" y="332" width="5" height="3" fill="#6b121b"/><rect x="1059" y="310" width="5" height="25" fill="#04291f"/><rect x="1064" y="310" width="5" height="5" fill="#6b121b"/><rect x="1070" y="307" width="5" height="8" fill="#04291f"/><rect x="1075" y="301" width="5" height="31" fill="#6b121b"/><rect x="1080" y="330" width="5" height="2" fill="#04291f"/><rect x="1085" y="330" width="5" height="15" fill="#6b121b"/><rect x="1091" y="321" width="5" height="24" fill="#04291f"/><rect x="1096" y="317" width="5" height="4" fill="#04291f"/><rect x="1101" y="305" width="5" height="18" fill="#6b121b"/><rect x="1106" y="278" width="5" height="45" fill="#04291f"/><rect x="1112" y="278" width="5" height="18" fill="#6b121b"/><rect x="1117" y="296" width="5" height="2" fill="#6b121b"/><rect x="1122" y="298" width="5" height="1" fill="#6b121b"/><rect x="1127" y="285" width="5" height="11" fill="#04291f"/><rect x="1132" y="285" width="5" height="27" fill="#6b121b"/><rect x="1138" y="311" width="5" height="14" fill="#6b121b"/><rect x="1143" y="323" width="5" height="1" fill="#04291f"/><rect x="1148" y="317" width="5" height="7" fill="#04291f"/><rect x="1153" y="317" width="5" height="3" fill="#6b121b"/><rect x="1159" y="273" width="5" height="47" fill="#04291f"/><rect x="1164" y="273" width="5" height="27" fill="#6b121b"/><rect x="1169" y="273" width="5" height="27" fill="#04291f"/><rect x="1174" y="255" width="5" height="19" fill="#04291f"/><rect x="1180" y="240" width="5" height="21" fill="#04291f"/><rect x="1185" y="238" width="5" height="3" fill="#04291f"/><rect x="1190" y="238" width="5" height="6" fill="#6b121b"/><rect x="1195" y="232" width="5" height="12" fill="#04291f"/><rect x="1201" y="232" width="5" height="12" fill="#6b121b"/><rect x="1206" y="242" width="5" height="1" fill="#04291f"/><rect x="1211" y="242" width="5" height="5" fill="#6b121b"/><rect x="1216" y="247" width="5" height="20" fill="#6b121b"/><rect x="1221" y="257" width="5" height="10" fill="#04291f"/><rect x="1227" y="257" width="5" height="6" fill="#6b121b"/><rect x="1232" y="254" width="5" height="32" fill="#6b121b"/><rect x="1237" y="285" width="5" height="5" fill="#6b121b"/><rect x="1242" y="289" width="5" height="4" fill="#6b121b"/><rect x="1248" y="285" width="5" height="8" fill="#04291f"/><rect x="1253" y="275" width="5" height="10" fill="#04291f"/><rect x="1258" y="268" width="5" height="26" fill="#6b121b"/><rect x="1263" y="260" width="5" height="34" fill="#04291f"/><rect x="1269" y="260" width="5" height="20" fill="#6b121b"/><rect x="1274" y="272" width="5" height="8" fill="#04291f"/><rect x="1279" y="272" width="5" height="22" fill="#6b121b"/><rect x="1284" y="283" width="5" height="6" fill="#04291f"/><rect x="1290" y="283" width="5" height="11" fill="#6b121b"/><rect x="1295" y="277" width="5" height="17" fill="#04291f"/><rect x="1300" y="252" width="5" height="26" fill="#04291f"/><rect x="1305" y="243" width="5" height="10" fill="#04291f"/><rect x="1310" y="239" width="5" height="7" fill="#04291f"/><rect x="1316" y="195" width="5" height="45" fill="#04291f"/><rect x="1321" y="183" width="5" height="13" fill="#04291f"/><rect x="1326" y="181" width="5" height="3" fill="#04291f"/><rect x="1331" y="181" width="5" height="20" fill="#6b121b"/><rect x="1337" y="201" width="5" height="8" fill="#6b121b"/><rect x="1342" y="158" width="5" height="51" fill="#04291f"/><rect x="1347" y="158" width="5" height="13" fill="#6b121b"/><rect x="1352" y="170" width="5" height="17" fill="#6b121b"/><rect x="1358" y="186" width="5" height="9" fill="#6b121b"/><rect x="1363" y="201" width="5" height="1" fill="#6b121b"/><rect x="1368" y="168" width="5" height="35" fill="#04291f"/><rect x="1373" y="150" width="5" height="18" fill="#04291f"/><rect x="1379" y="150" width="5" height="10" fill="#6b121b"/><rect x="1384" y="156" width="5" height="4" fill="#04291f"/><rect x="1389" y="161" width="5" height="5" fill="#6b121b"/><rect x="1394" y="165" width="5" height="3" fill="#6b121b"/><rect x="1399" y="143" width="5" height="25" fill="#04291f"/><rect x="1405" y="143" width="5" height="17" fill="#6b121b"/><rect x="1410" y="159" width="5" height="26" fill="#6b121b"/><rect x="1415" y="183" width="5" height="5" fill="#04291f"/><rect x="1420" y="183" width="5" height="4" fill="#6b121b"/><rect x="1426" y="186" width="5" height="32" fill="#6b121b"/><rect x="1431" y="216" width="5" height="2" fill="#04291f"/><rect x="1436" y="210" width="5" height="7" fill="#04291f"/><rect x="13" y="658" width="3" height="8" fill="#f23645"/><rect x="19" y="616" width="3" height="50" fill="#0a9981"/><rect x="24" y="616" width="3" height="20" fill="#f23645"/><rect x="29" y="635" width="3" height="1" fill="#0a9981"/><rect x="34" y="601" width="3" height="33" fill="#0a9981"/><rect x="39" y="592" width="3" height="22" fill="#0a9981"/><rect x="45" y="592" width="3" height="4" fill="#f23645"/><rect x="50" y="597" width="3" height="18" fill="#f23645"/><rect x="55" y="616" width="3" height="11" fill="#f23645"/><rect x="60" y="629" width="3" height="10" fill="#f23645"/><rect x="66" y="600" width="3" height="33" fill="#0a9981"/><rect x="71" y="600" width="3" height="5" fill="#f23645"/><rect x="76" y="606" width="3" height="10" fill="#f23645"/><rect x="81" y="618" width="3" height="13" fill="#f23645"/><rect x="87" y="632" width="3" height="15" fill="#f23645"/><rect x="92" y="649" width="3" height="3" fill="#f23645"/><rect x="97" y="653" width="3" height="2" fill="#f23645"/><rect x="102" y="656" width="3" height="14" fill="#f23645"/><rect x="108" y="651" width="3" height="18" fill="#0a9981"/><rect x="113" y="651" width="3" height="4" fill="#f23645"/><rect x="118" y="660" width="3" height="9" fill="#f23645"/><rect x="123" y="670" width="3" height="31" fill="#f23645"/><rect x="128" y="702" width="3" height="10" fill="#f23645"/><rect x="134" y="687" width="3" height="25" fill="#0a9981"/><rect x="139" y="630" width="3" height="55" fill="#0a9981"/><rect x="144" y="639" width="3" height="19" fill="#f23645"/><rect x="149" y="660" width="3" height="30" fill="#f23645"/><rect x="155" y="692" width="3" height="18" fill="#f23645"/><rect x="160" y="660" width="3" height="50" fill="#0a9981"/><rect x="165" y="658" width="3" height="1" fill="#0a9981"/><rect x="169" y="648" width="5" height="1" fill="#f23645" opacity="0.55"/><rect x="176" y="649" width="3" height="7" fill="#f23645"/><rect x="181" y="632" width="3" height="24" fill="#0a9981"/><rect x="186" y="632" width="3" height="33" fill="#f23645"/><rect x="191" y="658" width="3" height="8" fill="#0a9981"/><rect x="197" y="658" width="3" height="9" fill="#f23645"/><rect x="202" y="663" width="3" height="4" fill="#0a9981"/><rect x="207" y="652" width="3" height="9" fill="#0a9981"/><rect x="211" y="655" width="5" height="1" fill="#f23645" opacity="0.55"/><rect x="217" y="657" width="3" height="1" fill="#f23645"/><rect x="223" y="607" width="3" height="51" fill="#0a9981"/><rect x="228" y="588" width="3" height="17" fill="#0a9981"/><rect x="233" y="563" width="3" height="24" fill="#0a9981"/><rect x="238" y="561" width="3" height="11" fill="#0a9981"/><rect x="244" y="520" width="3" height="40" fill="#0a9981"/><rect x="249" y="520" width="3" height="31" fill="#f23645"/><rect x="254" y="539" width="3" height="12" fill="#0a9981"/><rect x="259" y="518" width="3" height="20" fill="#0a9981"/><rect x="265" y="515" width="3" height="1" fill="#0a9981"/><rect x="270" y="515" width="3" height="4" fill="#f23645"/><rect x="275" y="510" width="3" height="9" fill="#0a9981"/><rect x="280" y="510" width="3" height="12" fill="#f23645"/><rect x="285" y="524" width="3" height="28" fill="#f23645"/><rect x="291" y="554" width="3" height="6" fill="#f23645"/><rect x="296" y="562" width="3" height="9" fill="#f23645"/><rect x="301" y="572" width="3" height="14" fill="#f23645"/><rect x="305" y="586" width="5" height="1" fill="#f23645" opacity="0.55"/><rect x="312" y="588" width="3" height="6" fill="#f23645"/><rect x="317" y="628" width="3" height="14" fill="#f23645"/><rect x="322" y="635" width="3" height="7" fill="#0a9981"/><rect x="327" y="631" width="3" height="3" fill="#0a9981"/><rect x="333" y="602" width="3" height="28" fill="#0a9981"/><rect x="338" y="602" width="3" height="23" fill="#f23645"/><rect x="343" y="618" width="3" height="26" fill="#0a9981"/><rect x="348" y="617" width="3" height="7" fill="#f23645"/><rect x="354" y="609" width="3" height="15" fill="#0a9981"/><rect x="359" y="609" width="3" height="12" fill="#f23645"/><rect x="364" y="615" width="3" height="6" fill="#0a9981"/><rect x="369" y="630" width="3" height="14" fill="#f23645"/><rect x="374" y="645" width="3" height="18" fill="#f23645"/><rect x="380" y="664" width="3" height="2" fill="#f23645"/><rect x="385" y="658" width="3" height="7" fill="#0a9981"/><rect x="390" y="658" width="3" height="15" fill="#f23645"/><rect x="395" y="657" width="3" height="8" fill="#0a9981"/><rect x="401" y="650" width="3" height="6" fill="#0a9981"/><rect x="406" y="650" width="3" height="23" fill="#f23645"/><rect x="411" y="675" width="3" height="18" fill="#f23645"/><rect x="416" y="694" width="3" height="8" fill="#f23645"/><rect x="422" y="686" width="3" height="2" fill="#f23645"/><rect x="427" y="646" width="3" height="42" fill="#0a9981"/><rect x="432" y="587" width="3" height="57" fill="#0a9981"/><rect x="437" y="585" width="3" height="1" fill="#0a9981"/><rect x="443" y="573" width="3" height="11" fill="#0a9981"/><rect x="448" y="545" width="3" height="26" fill="#0a9981"/><rect x="453" y="525" width="3" height="18" fill="#0a9981"/><rect x="458" y="525" width="3" height="33" fill="#f23645"/><rect x="463" y="559" width="3" height="15" fill="#f23645"/><rect x="469" y="547" width="3" height="27" fill="#0a9981"/><rect x="474" y="544" width="3" height="1" fill="#f23645"/><rect x="479" y="538" width="3" height="7" fill="#0a9981"/><rect x="484" y="538" width="3" height="30" fill="#f23645"/><rect x="490" y="570" width="3" height="13" fill="#f23645"/><rect x="495" y="582.5" width="3" height="1" fill="#0a9981"/><rect x="500" y="572" width="3" height="21" fill="#f23645"/><rect x="505" y="594" width="3" height="19" fill="#f23645"/><rect x="511" y="608" width="3" height="5" fill="#0a9981"/><rect x="516" y="607.5" width="3" height="1" fill="#f23645"/><rect x="521" y="591" width="3" height="17" fill="#0a9981"/><rect x="526" y="581" width="3" height="6" fill="#0a9981"/><rect x="532" y="581" width="3" height="18" fill="#f23645"/><rect x="537" y="600" width="3" height="12" fill="#f23645"/><rect x="542" y="520" width="3" height="92" fill="#0a9981"/><rect x="547" y="465" width="3" height="54" fill="#0a9981"/><rect x="552" y="397" width="3" height="88" fill="#0a9981"/><rect x="558" y="383" width="3" height="13" fill="#0a9981"/><rect x="563" y="383" width="3" height="45" fill="#f23645"/><rect x="568" y="334" width="3" height="94" fill="#0a9981"/><rect x="573" y="297" width="3" height="35" fill="#0a9981"/><rect x="579" y="327" width="3" height="31" fill="#f23645"/><rect x="584" y="360" width="3" height="74" fill="#f23645"/><rect x="589" y="360" width="3" height="74" fill="#0a9981"/><rect x="594" y="360" width="3" height="44" fill="#f23645"/><rect x="600" y="398" width="3" height="6" fill="#0a9981"/><rect x="605" y="362" width="3" height="23" fill="#0a9981"/><rect x="610" y="362" width="3" height="34" fill="#f23645"/><rect x="615" y="398" width="3" height="26" fill="#f23645"/><rect x="620" y="424" width="5" height="1" fill="#f23645" opacity="0.55"/><rect x="626" y="425.5" width="3" height="1" fill="#f23645"/><rect x="631" y="430" width="3" height="34" fill="#f23645"/><rect x="636" y="465" width="3" height="2" fill="#f23645"/><rect x="641" y="461" width="3" height="6" fill="#0a9981"/><rect x="647" y="458" width="3" height="1" fill="#0a9981"/><rect x="652" y="450" width="3" height="7" fill="#0a9981"/><rect x="657" y="445" width="3" height="3" fill="#f23645"/><rect x="662" y="450" width="3" height="13" fill="#f23645"/><rect x="668" y="459" width="3" height="4" fill="#0a9981"/><rect x="673" y="459" width="3" height="23" fill="#f23645"/><rect x="678" y="483" width="3" height="20" fill="#f23645"/><rect x="683" y="522" width="3" height="19" fill="#f23645"/><rect x="689" y="542" width="3" height="6" fill="#f23645"/><rect x="694" y="533" width="3" height="15" fill="#0a9981"/><rect x="699" y="533" width="3" height="14" fill="#f23645"/><rect x="704" y="549" width="3" height="5" fill="#f23645"/><rect x="709" y="540" width="3" height="2" fill="#f23645"/><rect x="715" y="531" width="3" height="11" fill="#0a9981"/><rect x="720" y="517" width="3" height="12" fill="#0a9981"/><rect x="725" y="517" width="3" height="31" fill="#f23645"/><rect x="730" y="549" width="3" height="13" fill="#f23645"/><rect x="736" y="556" width="3" height="4" fill="#f23645"/><rect x="741" y="561" width="3" height="6" fill="#f23645"/><rect x="746" y="568" width="3" height="2" fill="#f23645"/><rect x="751" y="534" width="3" height="36" fill="#0a9981"/><rect x="757" y="529" width="3" height="4" fill="#0a9981"/><rect x="762" y="510" width="3" height="18" fill="#0a9981"/><rect x="767" y="510" width="3" height="32" fill="#f23645"/><rect x="772" y="532" width="3" height="10" fill="#0a9981"/><rect x="778" y="525" width="3" height="6" fill="#0a9981"/><rect x="783" y="525" width="3" height="9" fill="#f23645"/><rect x="788" y="529" width="3" height="3" fill="#0a9981"/><rect x="793" y="497" width="3" height="31" fill="#0a9981"/><rect x="798" y="482" width="3" height="14" fill="#0a9981"/><rect x="804" y="454" width="3" height="26" fill="#0a9981"/><rect x="808" y="453" width="5" height="1" fill="#0a9981" opacity="0.55"/><rect x="814" y="448" width="3" height="15" fill="#0a9981"/><rect x="819" y="414" width="3" height="33" fill="#0a9981"/><rect x="824" y="412" width="5" height="1" fill="#0a9981" opacity="0.55"/><rect x="830" y="413" width="3" height="10" fill="#f23645"/><rect x="835" y="404" width="3" height="19" fill="#0a9981"/><rect x="840" y="405" width="3" height="6" fill="#0a9981"/><rect x="846" y="405" width="3" height="29" fill="#f23645"/><rect x="851" y="433" width="3" height="1" fill="#0a9981"/><rect x="856" y="432" width="3" height="9" fill="#f23645"/><rect x="861" y="423" width="3" height="18" fill="#0a9981"/><rect x="867" y="383" width="3" height="26" fill="#0a9981"/><rect x="872" y="379" width="3" height="2" fill="#0a9981"/><rect x="877" y="317" width="3" height="61" fill="#0a9981"/><rect x="882" y="317" width="3" height="36" fill="#f23645"/><rect x="887" y="343" width="3" height="10" fill="#0a9981"/><rect x="893" y="345" width="3" height="16" fill="#f23645"/><rect x="898" y="342" width="3" height="19" fill="#0a9981"/><rect x="903" y="340.5" width="3" height="1" fill="#0a9981"/><rect x="908" y="340" width="3" height="10" fill="#f23645"/><rect x="914" y="309" width="3" height="41" fill="#0a9981"/><rect x="919" y="283" width="3" height="39" fill="#0a9981"/><rect x="924" y="283" width="3" height="18" fill="#f23645"/><rect x="929" y="299" width="3" height="2" fill="#0a9981"/><rect x="935" y="299" width="3" height="26" fill="#f23645"/><rect x="940" y="306" width="3" height="19" fill="#0a9981"/><rect x="945" y="304" width="3" height="12" fill="#0a9981"/><rect x="950" y="287" width="3" height="15" fill="#0a9981"/><rect x="956" y="287" width="3" height="15" fill="#f23645"/><rect x="961" y="277" width="3" height="25" fill="#0a9981"/><rect x="966" y="237" width="3" height="39" fill="#0a9981"/><rect x="971" y="223" width="3" height="69" fill="#f23645"/><rect x="976" y="293" width="3" height="27" fill="#f23645"/><rect x="982" y="321" width="3" height="30" fill="#f23645"/><rect x="987" y="326" width="3" height="25" fill="#0a9981"/><rect x="992" y="247" width="3" height="78" fill="#0a9981"/><rect x="997" y="246" width="3" height="14" fill="#f23645"/><rect x="1003" y="261" width="3" height="8" fill="#f23645"/><rect x="1008" y="246" width="3" height="23" fill="#0a9981"/><rect x="1013" y="246" width="3" height="46" fill="#f23645"/><rect x="1018" y="294" width="3" height="23" fill="#f23645"/><rect x="1024" y="314" width="3" height="5" fill="#f23645"/><rect x="1029" y="319.5" width="3" height="1" fill="#f23645"/><rect x="1034" y="321" width="3" height="23" fill="#f23645"/><rect x="1039" y="345" width="3" height="18" fill="#f23645"/><rect x="1044" y="334" width="3" height="29" fill="#0a9981"/><rect x="1050" y="330" width="3" height="2" fill="#f23645"/><rect x="1055" y="333" width="3" height="1" fill="#f23645"/><rect x="1060" y="311" width="3" height="23" fill="#0a9981"/><rect x="1065" y="311" width="3" height="3" fill="#f23645"/><rect x="1071" y="308" width="3" height="6" fill="#0a9981"/><rect x="1076" y="302" width="3" height="29" fill="#f23645"/><rect x="1081" y="330.5" width="3" height="1" fill="#0a9981"/><rect x="1086" y="331" width="3" height="13" fill="#f23645"/><rect x="1092" y="322" width="3" height="22" fill="#0a9981"/><rect x="1097" y="318" width="3" height="2" fill="#0a9981"/><rect x="1102" y="306" width="3" height="16" fill="#f23645"/><rect x="1107" y="279" width="3" height="43" fill="#0a9981"/><rect x="1113" y="279" width="3" height="16" fill="#f23645"/><rect x="1118" y="296.5" width="3" height="1" fill="#f23645"/><rect x="1122" y="298" width="5" height="1" fill="#f23645" opacity="0.55"/><rect x="1128" y="286" width="3" height="9" fill="#0a9981"/><rect x="1133" y="286" width="3" height="25" fill="#f23645"/><rect x="1139" y="312" width="3" height="12" fill="#f23645"/><rect x="1143" y="323" width="5" height="1" fill="#0a9981" opacity="0.55"/><rect x="1149" y="318" width="3" height="5" fill="#0a9981"/><rect x="1154" y="318" width="3" height="1" fill="#f23645"/><rect x="1160" y="274" width="3" height="45" fill="#0a9981"/><rect x="1165" y="274" width="3" height="25" fill="#f23645"/><rect x="1170" y="274" width="3" height="25" fill="#0a9981"/><rect x="1175" y="256" width="3" height="17" fill="#0a9981"/><rect x="1181" y="241" width="3" height="19" fill="#0a9981"/><rect x="1186" y="239" width="3" height="1" fill="#0a9981"/><rect x="1191" y="239" width="3" height="4" fill="#f23645"/><rect x="1196" y="233" width="3" height="10" fill="#0a9981"/><rect x="1202" y="233" width="3" height="10" fill="#f23645"/><rect x="1206" y="242" width="5" height="1" fill="#0a9981" opacity="0.55"/><rect x="1212" y="243" width="3" height="3" fill="#f23645"/><rect x="1217" y="248" width="3" height="18" fill="#f23645"/><rect x="1222" y="258" width="3" height="8" fill="#0a9981"/><rect x="1228" y="258" width="3" height="4" fill="#f23645"/><rect x="1233" y="255" width="3" height="30" fill="#f23645"/><rect x="1238" y="286" width="3" height="3" fill="#f23645"/><rect x="1243" y="290" width="3" height="2" fill="#f23645"/><rect x="1249" y="286" width="3" height="6" fill="#0a9981"/><rect x="1254" y="276" width="3" height="8" fill="#0a9981"/><rect x="1259" y="269" width="3" height="24" fill="#f23645"/><rect x="1264" y="261" width="3" height="32" fill="#0a9981"/><rect x="1270" y="261" width="3" height="18" fill="#f23645"/><rect x="1275" y="273" width="3" height="6" fill="#0a9981"/><rect x="1280" y="273" width="3" height="20" fill="#f23645"/><rect x="1285" y="284" width="3" height="4" fill="#0a9981"/><rect x="1291" y="284" width="3" height="9" fill="#f23645"/><rect x="1296" y="278" width="3" height="15" fill="#0a9981"/><rect x="1301" y="253" width="3" height="24" fill="#0a9981"/><rect x="1306" y="244" width="3" height="8" fill="#0a9981"/><rect x="1311" y="240" width="3" height="5" fill="#0a9981"/><rect x="1317" y="196" width="3" height="43" fill="#0a9981"/><rect x="1322" y="184" width="3" height="11" fill="#0a9981"/><rect x="1327" y="182" width="3" height="1" fill="#0a9981"/><rect x="1332" y="182" width="3" height="18" fill="#f23645"/><rect x="1338" y="202" width="3" height="6" fill="#f23645"/><rect x="1343" y="159" width="3" height="49" fill="#0a9981"/><rect x="1348" y="159" width="3" height="11" fill="#f23645"/><rect x="1353" y="171" width="3" height="15" fill="#f23645"/><rect x="1359" y="187" width="3" height="7" fill="#f23645"/><rect x="1363" y="201" width="5" height="1" fill="#f23645" opacity="0.55"/><rect x="1369" y="169" width="3" height="33" fill="#0a9981"/><rect x="1374" y="151" width="3" height="16" fill="#0a9981"/><rect x="1380" y="151" width="3" height="8" fill="#f23645"/><rect x="1385" y="157" width="3" height="2" fill="#0a9981"/><rect x="1390" y="162" width="3" height="3" fill="#f23645"/><rect x="1395" y="166" width="3" height="1" fill="#f23645"/><rect x="1400" y="144" width="3" height="23" fill="#0a9981"/><rect x="1406" y="144" width="3" height="15" fill="#f23645"/><rect x="1411" y="160" width="3" height="24" fill="#f23645"/><rect x="1416" y="184" width="3" height="3" fill="#0a9981"/><rect x="1421" y="184" width="3" height="2" fill="#f23645"/><rect x="1427" y="187" width="3" height="30" fill="#f23645"/><rect x="1432" y="216.5" width="3" height="1" fill="#0a9981"/><rect x="1437" y="211" width="3" height="5" fill="#0a9981"/></g>
<rect x="0" y="36" width="13" height="750" fill="#fff"/>
<rect x="12.7" y="33.8" width="1622.1" height="788" fill="none" stroke="#eff0f3" stroke-width="1.8"/>
<rect x="1557.9" y="34" width="1.1" height="788" fill="#3d4150"/>
<rect x="13" y="786.75" width="1622" height="1.1" fill="#3d4150"/>
<text x="1569.1" y="86.2" font-size="16.5" font-weight="normal" fill="#4f535f" textLength="53.4" lengthAdjust="spacingAndGlyphs">0.89000</text>
<text x="1569.1" y="132.4" font-size="16.5" font-weight="normal" fill="#4f535f" textLength="53.4" lengthAdjust="spacingAndGlyphs">0.88500</text>
<text x="1569.1" y="227.7" font-size="16.5" font-weight="normal" fill="#4f535f" textLength="53.4" lengthAdjust="spacingAndGlyphs">0.87500</text>
<text x="1569.1" y="274.5" font-size="16.5" font-weight="normal" fill="#4f535f" textLength="53.4" lengthAdjust="spacingAndGlyphs">0.87000</text>
<text x="1569.1" y="321.7" font-size="16.5" font-weight="normal" fill="#4f535f" textLength="53.4" lengthAdjust="spacingAndGlyphs">0.86500</text>
<text x="1569.1" y="368.6" font-size="16.5" font-weight="normal" fill="#4f535f" textLength="53.4" lengthAdjust="spacingAndGlyphs">0.86000</text>
<text x="1569.1" y="415.5" font-size="16.5" font-weight="normal" fill="#4f535f" textLength="53.4" lengthAdjust="spacingAndGlyphs">0.85500</text>
<text x="1569.1" y="462.7" font-size="16.5" font-weight="normal" fill="#4f535f" textLength="53.4" lengthAdjust="spacingAndGlyphs">0.85000</text>
<text x="1569.1" y="510.5" font-size="16.5" font-weight="normal" fill="#4f535f" textLength="53.4" lengthAdjust="spacingAndGlyphs">0.84500</text>
<text x="1569.1" y="557.4" font-size="16.5" font-weight="normal" fill="#4f535f" textLength="53.4" lengthAdjust="spacingAndGlyphs">0.84000</text>
<text x="1569.1" y="604.3" font-size="16.5" font-weight="normal" fill="#4f535f" textLength="53.4" lengthAdjust="spacingAndGlyphs">0.83500</text>
<text x="1569.1" y="651.4" font-size="16.5" font-weight="normal" fill="#4f535f" textLength="53.4" lengthAdjust="spacingAndGlyphs">0.83000</text>
<text x="1569.1" y="698.3" font-size="16.5" font-weight="normal" fill="#4f535f" textLength="53.4" lengthAdjust="spacingAndGlyphs">0.82500</text>
<text x="1569.1" y="745.2" font-size="16.5" font-weight="normal" fill="#4f535f" textLength="53.4" lengthAdjust="spacingAndGlyphs">0.82000</text>
<rect x="1560" y="36" width="74" height="39.8" fill="#fff"/>
<rect x="1563.2" y="38.6" width="69" height="32.6" rx="5" fill="#fff" stroke="#f0f1f3" stroke-width="1.6"/>
<text x="1574.0" y="59.8" font-size="16.7" font-weight="normal" fill="#1b1e25" textLength="27.6" lengthAdjust="spacingAndGlyphs">GBP</text>
<path d="M1559,169.1 H1626.5 Q1628.7,169.1 1628.7,171.3 V187.5 Q1628.7,189.7 1626.5,189.7 H1559 Z" fill="#9c27b0"/>
<text x="1569.8" y="184.7" font-size="16.5" font-weight="normal" fill="#fff" textLength="52.4" lengthAdjust="spacingAndGlyphs">0.87951</text>
<path d="M1559,200.1 H1626.5 Q1628.7,200.1 1628.7,202.3 V218.5 Q1628.7,220.7 1626.5,220.7 H1559 Z" fill="#089981"/>
<text x="1569.8" y="215.7" font-size="16.5" font-weight="normal" fill="#fff" textLength="52.4" lengthAdjust="spacingAndGlyphs">0.87626</text>
<path d="M1559,367.9 H1626.5 Q1628.7,367.9 1628.7,370.1 V386.3 Q1628.7,388.5 1626.5,388.5 H1559 Z" fill="#2962ff"/>
<text x="1569.8" y="383.5" font-size="16.5" font-weight="normal" fill="#fff" textLength="52.4" lengthAdjust="spacingAndGlyphs">0.85840</text>
<text x="80.9" y="809.7" font-size="16.4" font-weight="normal" fill="#4f535f" textLength="24.6" lengthAdjust="spacingAndGlyphs">Dec</text>
<text x="186.4" y="809.7" font-size="16.4" font-weight="bold" fill="#4f535f" textLength="33.6" lengthAdjust="spacingAndGlyphs">2025</text>
<text x="306.2" y="809.7" font-size="16.4" font-weight="normal" fill="#4f535f" textLength="24.0" lengthAdjust="spacingAndGlyphs">Feb</text>
<text x="410.2" y="809.7" font-size="16.4" font-weight="normal" fill="#4f535f" textLength="25.5" lengthAdjust="spacingAndGlyphs">Mar</text>
<text x="521.4" y="809.7" font-size="16.4" font-weight="normal" fill="#4f535f" textLength="23.6" lengthAdjust="spacingAndGlyphs">Apr</text>
<text x="634.8" y="809.7" font-size="16.4" font-weight="normal" fill="#4f535f" textLength="26.5" lengthAdjust="spacingAndGlyphs">May</text>
<text x="751.2" y="809.7" font-size="16.4" font-weight="normal" fill="#4f535f" textLength="23.5" lengthAdjust="spacingAndGlyphs">Jun</text>
<text x="863.1" y="809.7" font-size="16.4" font-weight="normal" fill="#4f535f" textLength="19.8" lengthAdjust="spacingAndGlyphs">Jul</text>
<text x="980.6" y="809.7" font-size="16.4" font-weight="normal" fill="#4f535f" textLength="24.9" lengthAdjust="spacingAndGlyphs">Aug</text>
<text x="1091.2" y="809.7" font-size="16.4" font-weight="normal" fill="#4f535f" textLength="23.5" lengthAdjust="spacingAndGlyphs">Sep</text>
<text x="1206.6" y="809.7" font-size="16.4" font-weight="normal" fill="#4f535f" textLength="23.2" lengthAdjust="spacingAndGlyphs">Oct</text>
<text x="1326.7" y="809.7" font-size="16.4" font-weight="normal" fill="#4f535f" textLength="24.8" lengthAdjust="spacingAndGlyphs">Nov</text>
<text x="1431.2" y="809.7" font-size="16.4" font-weight="normal" fill="#4f535f" textLength="24.6" lengthAdjust="spacingAndGlyphs">Dec</text>
<text y="24.6" font-size="17" fill="#1b1e25"><tspan x="12.8" textLength="150.2" lengthAdjust="spacingAndGlyphs">ContinuumEconomics2</tspan> <tspan x="167.4" textLength="51.8" lengthAdjust="spacingAndGlyphs">created</tspan> <tspan x="224.2" textLength="29.3" lengthAdjust="spacingAndGlyphs">with</tspan> <tspan x="258.6" textLength="117.2" lengthAdjust="spacingAndGlyphs">TradingView.com,</tspan> <tspan x="381.6" textLength="24.3" lengthAdjust="spacingAndGlyphs">Nov</tspan> <tspan x="411.2" textLength="19.8" lengthAdjust="spacingAndGlyphs">28,</tspan> <tspan x="436.5" textLength="31.5" lengthAdjust="spacingAndGlyphs">2025</tspan> <tspan x="473.5" textLength="36.3" lengthAdjust="spacingAndGlyphs">14:44</tspan> <tspan x="514.9" textLength="42.4" lengthAdjust="spacingAndGlyphs">UTC+8</tspan></text>
<text x="694.2" y="76.9" font-size="25.8" font-weight="bold" fill="#40444f" textLength="238.8" lengthAdjust="spacingAndGlyphs">EUR/GBP Daily Chart</text>
<text x="1286.4" y="78.3" font-size="25.8" font-weight="bold" fill="#40444f" textLength="148.6" lengthAdjust="spacingAndGlyphs">1-2 day view</text>
<path d="M1469.2,54 L1491,76 M1491,55 V76 H1470.2" fill="none" stroke="#f23645" stroke-width="6" stroke-linecap="round" stroke-linejoin="round"/>
<text x="1469.3" y="123.6" font-size="25.2" font-weight="bold" fill="#f23645" textLength="66.4" lengthAdjust="spacingAndGlyphs">.8865</text>
<text x="1469.3" y="185.5" font-size="25.2" font-weight="bold" fill="#f23645" textLength="66.6" lengthAdjust="spacingAndGlyphs">.8800</text>
<text x="1469.3" y="229.6" font-size="25.2" font-weight="bold" fill="#f23645" textLength="66.6" lengthAdjust="spacingAndGlyphs">.8752</text>
<text x="1469.1" y="277.4" font-size="25.2" font-weight="bold" fill="#f23645" textLength="66.8" lengthAdjust="spacingAndGlyphs">.8700</text>
<text x="1469.1" y="323.3" font-size="25.2" font-weight="bold" fill="#f23645" textLength="66.8" lengthAdjust="spacingAndGlyphs">.8650</text>
<text x="538.5" y="226.0" font-size="25.2" font-weight="bold" fill="#f23645" textLength="66.6" lengthAdjust="spacingAndGlyphs">.8737</text>
<text x="98.5" y="750.8" font-size="25.2" font-weight="bold" fill="#f23645" textLength="66.4" lengthAdjust="spacingAndGlyphs">.8222</text>
<text x="888.0" y="457.8" font-size="22.8" font-weight="bold" fill="#673ab7" textLength="109.4" lengthAdjust="spacingAndGlyphs">20-day MA</text>
<text x="1312.0" y="451.8" font-size="22.5" font-weight="bold" fill="#2979ff" textLength="122.3" lengthAdjust="spacingAndGlyphs">200-day MA</text>
<g fill="#131313">
<path d="M15.7,850 H30.4 V867.7 H23 V856.8 H15.7 Z"/>
<circle cx="36.5" cy="853.3" r="3.3"/>
<path d="M43,850 H52.7 L45.5,867.7 H36.6 Z"/>
</g>
<text x="62.0" y="867.8" font-size="26.2" font-weight="bold" fill="#131313" textLength="151.6" lengthAdjust="spacingAndGlyphs">TradingView</text>
</svg>
</body></html>
